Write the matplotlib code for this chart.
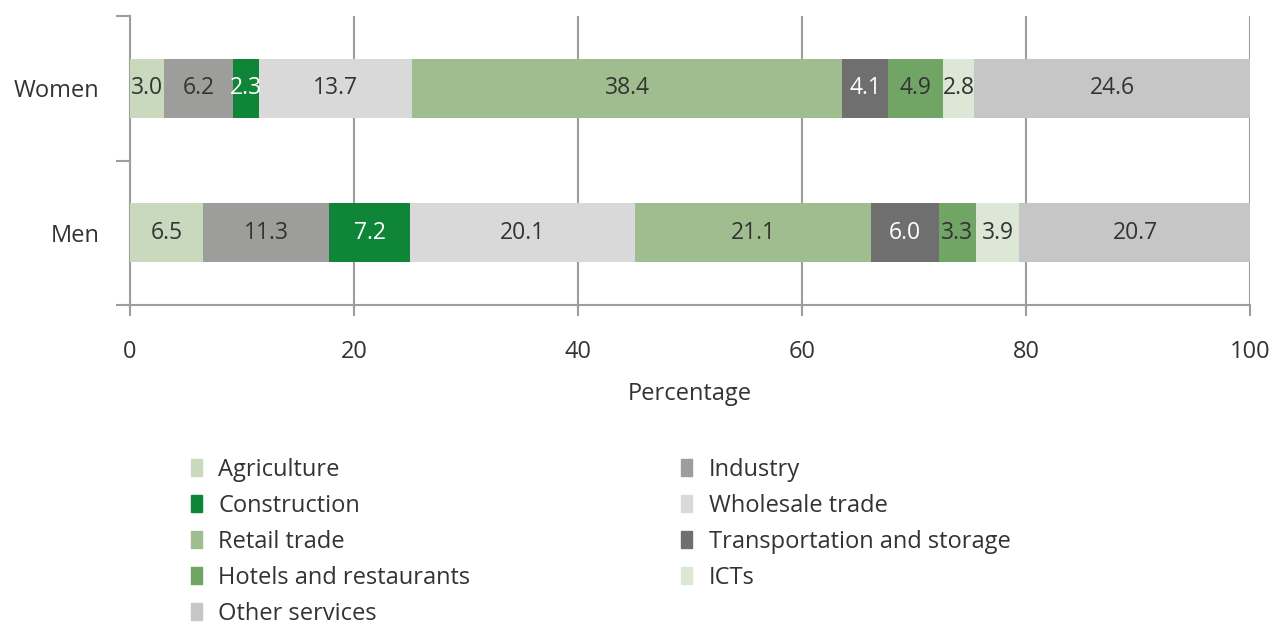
import matplotlib
matplotlib.use("Agg")
import matplotlib.pyplot as plt
from matplotlib.patches import Patch
import numpy as np

plt.rcParams['font.family'] = ['Open Sans', 'DejaVu Sans']

groups = ["Women", "Men"]
sectors = ["Agriculture", "Industry", "Construction", "Wholesale trade", "Retail trade",
           "Transportation and storage", "Hotels and restaurants", "ICTs", "Other services"]
women = [3.0, 6.2, 2.3, 13.7, 38.4, 4.1, 4.9, 2.8, 24.6]
men = [6.5, 11.3, 7.2, 20.1, 21.1, 6.0, 3.3, 3.9, 20.7]
colors = ["#c8d9be", "#9d9d9c", "#0f8637", "#d9d9d9", "#9fbd8e",
          "#706f6f", "#70a566", "#dce7d5", "#c6c6c6"]
label_colors = ["#333333", "#333333", "white", "#333333", "#333333",
                "white", "#333333", "#333333", "#333333"]
xticks = [0, 20, 40, 60, 80, 100]

FS = 17
fig = plt.figure(figsize=(12.72, 6.24), dpi=100)
ax = fig.add_axes([130/1272, 1-305/624, 1120/1272, 289/624])

vals = np.array([women, men])
ypos = np.arange(len(groups))
left = np.zeros(len(groups))
handles = []
for i, s in enumerate(sectors):
    ax.barh(ypos, vals[:, i], left=left, height=0.41, color=colors[i], zorder=3)
    for j in range(len(groups)):
        ax.text(left[j] + vals[j, i] / 2, ypos[j], f"{vals[j, i]:.1f}", ha="center", va="center",
                color=label_colors[i], fontsize=16.5, zorder=4)
    left += vals[:, i]
    handles.append(Patch(color=colors[i], label=s))

ax.set_xlim(0, 100)
ax.set_ylim(1.5, -0.5)
ax.set_xticks(xticks)
ax.set_xticklabels([str(t) for t in xticks], fontsize=FS, color="#333333")
ax.set_yticks(ypos)
ax.set_yticklabels(groups, fontsize=FS, color="#333333")
ax.tick_params(axis="y", which="major", length=0, pad=22)
ax.set_yticks([-0.5, 0.5, 1.5], minor=True)
ax.tick_params(axis="y", which="minor", length=10, width=1.5, color="#9d9d9c")
ax.tick_params(axis="x", length=8, width=1.5, color="#9d9d9c", pad=17)
ax.grid(axis="x", color="#9d9d9c", linewidth=1.5, zorder=0)
for sp in ["top", "right"]:
    ax.spines[sp].set_visible(False)
for sp in ["left", "bottom"]:
    ax.spines[sp].set_color("#9d9d9c")
    ax.spines[sp].set_linewidth(1.5)
ax.set_xlabel("Percentage", fontsize=FS, color="#333333", labelpad=13)

order = [0, 2, 4, 6, 8, 1, 3, 5, 7]
leg = fig.legend([handles[k] for k in order], [sectors[k] for k in order], ncol=2,
                 loc="upper left", bbox_to_anchor=(174/1272, 1-441/624), frameon=False,
                 fontsize=FS, handlelength=0.5, handleheight=0.7, handletextpad=0.68,
                 columnspacing=8.9, labelspacing=0.51, labelcolor="#333333", borderpad=0.2)

fig.savefig("out.png", dpi=100)
